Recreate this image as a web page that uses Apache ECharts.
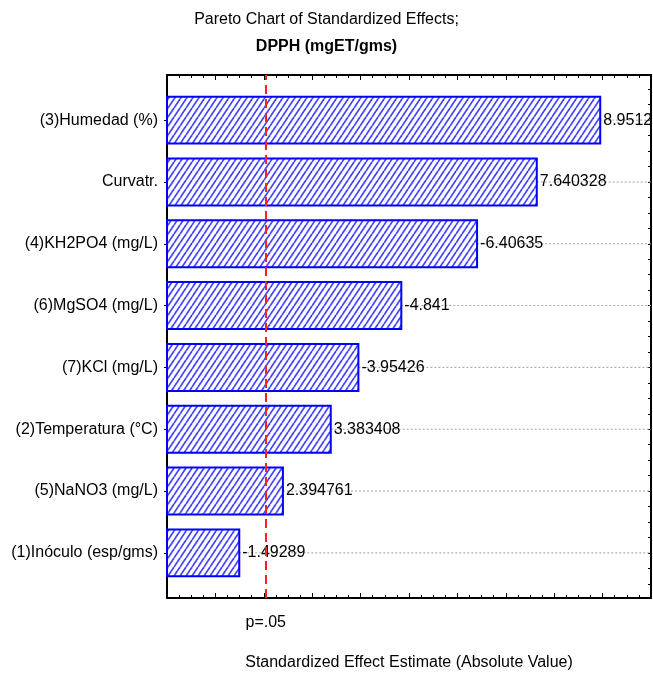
<!DOCTYPE html>
<html>
<head>
<meta charset="utf-8">
<script src="https://cdn.jsdelivr.net/npm/echarts@6/dist/echarts.min.js"></script>
<style>html,body{margin:0;padding:0;background:#fff}#chart{width:653px;height:673px}</style>
</head>
<body>
<div id="chart"></div>
<script>
// ---- data (top to bottom) ----
const categories = ['(3)Humedad (%)', 'Curvatr.', '(4)KH2PO4 (mg/L)', '(6)MgSO4 (mg/L)', '(7)KCl (mg/L)', '(2)Temperatura (°C)', '(5)NaNO3 (mg/L)', '(1)Inóculo (esp/gms)'];
const effects = [8.9512, 7.640328, -6.40635, -4.841, -3.95426, 3.383408, 2.394761, -1.49289];
const effectLabels = ['8.9512', '7.640328', '-6.40635', '-4.841', '-3.95426', '3.383408', '2.394761', '-1.49289'];
const pCrit = 2.04;
const pLabel = 'p=.05';
const xMin = 0, xMax = 10;

const FONT = '"Liberation Sans", Arial, sans-serif';
const FS = 16;
const n = categories.length;
const yMin = -0.73, yMax = n - 1 + 0.73;

// hatch pattern
const tile = document.createElement('canvas');
tile.width = 6; tile.height = 9;
(function () {
  const c = tile.getContext('2d');
  c.fillStyle = '#ffffff'; c.fillRect(0, 0, 6, 9);
  c.strokeStyle = '#4444ff'; c.lineWidth = 1.7;
  for (let k = -1; k <= 1; k++) {
    c.beginPath(); c.moveTo(k * 6, 9); c.lineTo(k * 6 + 6, 0); c.stroke();
  }
})();

const data = effects.map((v, i) => [Math.abs(v), n - 1 - i, i]);
const quarterTicks = [];
for (let t = -0.5; t <= n - 0.5 + 1e-9; t += 0.25) quarterTicks.push(+t.toFixed(2));
const centerTicks = categories.map((c, i) => i);

const chart = echarts.init(document.getElementById('chart'));
const axisX = (pos) => ({
  type: 'value', position: pos, min: xMin, max: xMax, interval: 1,
  axisLine: { show: true, onZero: false, lineStyle: { color: '#000', width: 2 } },
  axisTick: { show: true, inside: true, length: 5, lineStyle: { color: '#000', width: 1 } },
  minorTick: { show: true, splitNumber: 4, length: 3, lineStyle: { color: '#000', width: 1 } },
  axisLabel: { show: false }, splitLine: { show: false }, minorSplitLine: { show: false }
});
chart.setOption({
  animation: false,
  backgroundColor: '#fff',
  title: [
    { text: 'Pareto Chart of Standardized Effects;', left: 'center', top: 7,
      textStyle: { fontFamily: FONT, fontSize: FS, fontWeight: 'normal', color: '#000' } },
    { text: 'DPPH (mgET/gms)', left: 'center', top: 34,
      textStyle: { fontFamily: FONT, fontSize: FS, fontWeight: 'bold', color: '#000' } }
  ],
  grid: { left: 167, right: 2, top: 75, bottom: 75, containLabel: false, outerBoundsMode: 'none' },
  xAxis: [
    Object.assign(axisX('bottom'), {
      name: 'Standardized Effect Estimate (Absolute Value)', nameLocation: 'middle', nameGap: 57,
      nameTextStyle: { fontFamily: FONT, fontSize: FS, color: '#000' }
    }),
    axisX('top')
  ],
  yAxis: [
    { type: 'value', position: 'left', min: yMin, max: yMax,
      axisLine: { show: true, onZero: false, lineStyle: { color: '#000', width: 2 } },
      axisTick: { show: true, inside: false, length: 3, customValues: centerTicks, lineStyle: { color: '#000' } },
      axisLabel: { show: true, customValues: centerTicks, margin: 9, fontFamily: FONT, fontSize: FS, color: '#000',
        formatter: (v) => categories[n - 1 - Math.round(v)] },
      splitLine: { show: false } },
    { type: 'value', position: 'right', min: yMin, max: yMax,
      axisLine: { show: true, onZero: false, lineStyle: { color: '#000', width: 2 } },
      axisTick: { show: true, inside: true, length: 3, customValues: quarterTicks, lineStyle: { color: '#000' } },
      axisLabel: { show: false }, splitLine: { show: false } }
  ],
  series: [{
    type: 'custom',
    xAxisIndex: 0, yAxisIndex: 0,
    data: data,
    encode: { x: 0, y: 1 },
    clip: false,
    renderItem: function (params, api) {
      const v = api.value(0), y = api.value(1), idx = api.value(2);
      const p0 = api.coord([0, y]);
      const p1 = api.coord([v, y]);
      const pr = api.coord([xMax, y]);
      const h = api.size([0, 0.76])[1];
      return {
        type: 'group',
        children: [
          { type: 'line', z2: 1, shape: { x1: p1[0], y1: p1[1], x2: pr[0], y2: pr[1] },
            style: { stroke: '#a0a0a0', lineWidth: 1, lineDash: [2, 2] } },
          { type: 'rect', z2: 2, shape: { x: p0[0], y: p0[1] - h / 2, width: p1[0] - p0[0], height: h },
            style: { fill: { image: tile, repeat: 'repeat' }, stroke: '#0000ff', lineWidth: 2 } },
          { type: 'text', z2: 3, x: p1[0] + 3, y: p1[1],
            style: { text: effectLabels[idx], fontFamily: FONT, fontSize: FS, fill: '#000',
              verticalAlign: 'middle', align: 'left' } }
        ]
      };
    },
    markLine: {
      silent: true, symbol: 'none', animation: false,
      lineStyle: { color: '#ff2020', type: [9, 5], width: 2 },
      label: { show: true, position: 'start', formatter: pLabel, distance: 17,
        fontFamily: FONT, fontSize: FS, color: '#000' },
      data: [{ xAxis: pCrit }]
    }
  }]
});
</script>
</body>
</html>
